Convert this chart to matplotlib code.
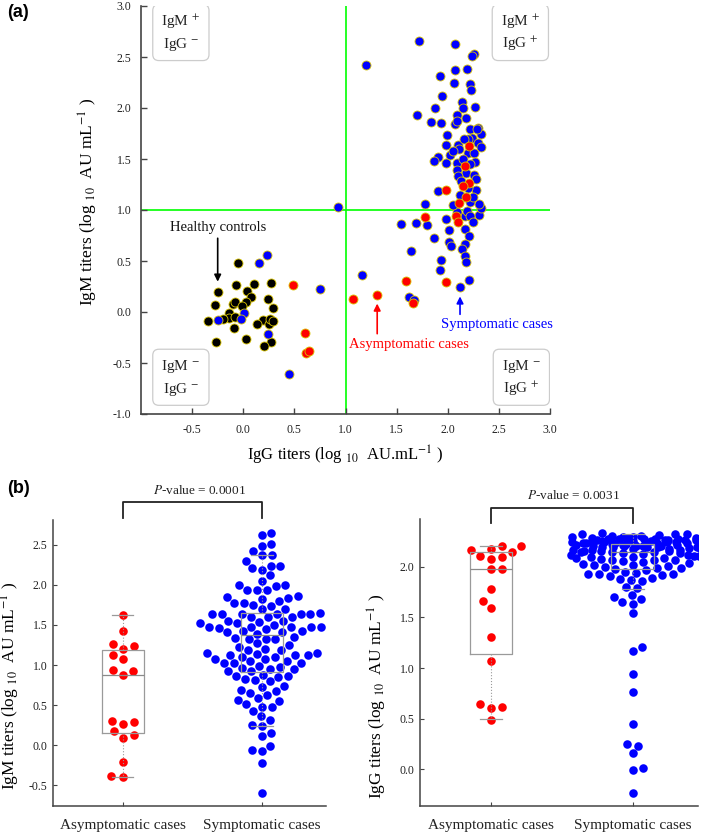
import numpy as np
import matplotlib
matplotlib.use("Agg")
import matplotlib.pyplot as plt
from matplotlib.patches import FancyBboxPatch

plt.rcParams['font.family'] = ['Liberation Serif', 'DejaVu Serif']
plt.rcParams['mathtext.fontset'] = 'stix'
plt.rcParams['axes.unicode_minus'] = False

# ---------------- data: panel (a) ----------------
ctrl_igg = [-0.05, -0.25, -0.07, 0.04, 0.11, 0.27, 0.08, 0.24, -0.28, -0.10, -0.08, 0.03, -0.01, 0.29,
            -0.14, -0.14, -0.20, -0.34, -0.08, 0.19, 0.13, 0.25, 0.26, 0.29, -0.09, 0.03, -0.27, 0.27, 0.20]
ctrl_igm = [0.48, 0.20, 0.26, 0.21, 0.27, 0.28, 0.15, 0.13, 0.07, 0.08, 0.10, 0.10, 0.06, 0.04,
            -0.01, -0.06, -0.07, -0.09, -0.05, -0.08, -0.12, -0.12, -0.07, -0.09, -0.16, -0.26, -0.29, -0.29, -0.33]

asym_igg = [2.21, 2.17, 2.21, 2.15, 1.98, 2.18, 2.11, 1.78, 2.08, 2.10, 1.59, 1.98, 1.07, 1.31, 1.66,
            0.49, 0.60, 0.61, 0.64]
asym_igm = [1.63, 1.43, 1.26, 1.24, 1.20, 1.13, 1.07, 0.93, 0.94, 0.88, 0.30, 0.29, 0.13, 0.17, 0.09,
            0.26, -0.21, -0.40, -0.38]

sym_igg = [0.23, 0.15, -0.25, 0.01, -0.02, 0.24, 0.45, 0.75, 0.93,
           1.78, 1.54, 1.69, 1.80, 1.98, 2.01, 1.87, 2.01, 2.03, 2.17, 2.21, 2.17, 2.14, 2.17, 2.18, 2.21,
           2.12, 1.64, 1.93, 1.92, 1.16, 1.62, 1.67, 2.17, 2.31, 2.33, 2.09, 2.19, 2.22, 2.31, 2.22,
           1.72, 2.07, 1.20, 2.26, 2.24, 2.07, 2.19, 1.92, 2.06, 2.22, 2.23, 1.94, 2.14, 2.15, 2.27, 1.88,
           1.70, 2.09, 1.84, 1.93, 2.07, 2.22, 2.30, 2.33, 1.99, 2.24, 2.20, 1.98, 2.10, 2.30, 2.33, 2.11,
           2.20, 2.26, 2.02, 1.90, 1.87, 1.98, 2.09, 2.27, 2.09, 2.18, 2.26, 2.10, 2.13, 1.90, 2.28, 2.15,
           2.25, 2.09, 2.29, 2.15, 2.22, 2.05, 2.28, 2.12, 2.20, 2.05, 2.25, 2.16, 2.18]
sym_igm = [0.56, 0.48, -0.08, -0.01, -0.07, -0.22, -0.61, 0.23, 1.03,
           1.06, 0.86, 0.87, 0.85, 0.91, 0.80, 0.73, 0.69, 0.65, 0.81, 0.75, 0.67, 0.62, 0.55, 0.49, 0.31,
           0.25, 0.60, 0.51, 0.41, 0.36, 0.15, 0.12, 0.94, 0.95, 1.02, 0.98, 0.99, 0.94, 1.06, 1.08,
           2.66, 2.63, 2.42, 2.53, 2.51, 2.37, 2.38, 2.31, 2.25, 2.24, 2.18, 2.12, 2.06, 2.00, 2.01, 2.00,
           1.93, 1.93, 1.86, 1.85, 1.84, 1.79, 1.80, 1.75, 1.74, 1.71, 1.70, 1.64, 1.64, 1.66, 1.62, 1.60,
           1.56, 1.56, 1.54, 1.52, 1.48, 1.46, 1.46, 1.47, 1.39, 1.36, 1.34, 1.33, 1.28, 1.19, 1.20, 1.13,
           1.13, 1.87, 1.79, 1.50, 1.45, 1.58, 1.30, 1.15, 1.22, 1.05, 0.88, 1.70, 1.90]

# ---------------- data: panel (b) ----------------
groups = ["Asymptomatic cases", "Symptomatic cases"]

sym_igm_b = [2.65, 2.62, 2.51, 2.49, 2.42, 2.37, 2.37, 2.30, 2.24, 2.24, 2.21, 2.19, 2.12, 2.05, 1.99,
             2.00, 2.00, 1.93, 1.93, 1.93, 1.86, 1.83, 1.85, 1.84, 1.78, 1.80, 1.78, 1.75, 1.70, 1.74,
             1.70, 1.64, 1.64, 1.64, 1.64, 1.65, 1.60, 1.64, 1.64, 1.55, 1.60, 1.60, 1.55, 1.54, 1.52,
             1.52, 1.48, 1.47, 1.48, 1.48, 1.46, 1.50, 1.45, 1.47, 1.42, 1.42, 1.41, 1.41, 1.39, 1.33,
             1.33, 1.35, 1.33, 1.34, 1.27, 1.25, 1.23, 1.19, 1.19, 1.20, 1.15, 1.15, 1.14, 1.13, 1.10,
             1.13, 1.10, 1.12, 1.05, 1.08, 1.05, 1.08, 1.03, 1.03, 1.02, 0.99, 0.98, 0.96, 0.95, 0.95,
             0.92, 0.92, 0.88, 0.82, 0.86, 0.86, 0.85, 0.80, 0.81, 0.74, 0.73, 0.69, 0.65, 0.63, 0.67,
             0.59, 0.55, 0.56, 0.51, 0.48, 0.48, 0.42, 0.36, 0.31, 0.25, 0.24, 0.15, 0.12, -0.01, -0.06,
             -0.07, -0.22, -0.60]
sym_igg_b = [2.33, 2.34, 2.32, 2.33, 2.33, 2.30, 2.29, 2.31, 2.30, 2.29, 2.30, 2.28,
             2.28, 2.27, 2.28, 2.27, 2.28, 2.26, 2.27, 2.28, 2.27,
             2.25, 2.24, 2.25, 2.26, 2.24, 2.25, 2.24, 2.25, 2.23, 2.24, 2.25,
             2.21, 2.22, 2.21, 2.20, 2.21, 2.22, 2.20, 2.21, 2.22, 2.20, 2.21, 2.19, 2.20,
             2.16, 2.17, 2.15, 2.16, 2.17, 2.15, 2.16, 2.14, 2.15,
             2.11, 2.10, 2.09, 2.10, 2.12, 2.11, 2.07, 2.08, 2.06, 2.07, 2.07,
             2.02, 1.99, 1.98, 2.00, 2.01, 1.99, 2.02, 1.97,
             1.95, 1.93, 1.92, 1.94, 1.93, 1.91, 1.93, 1.88, 1.86, 1.87, 1.89,
             1.80, 1.79, 1.72, 1.70, 1.68, 1.65, 1.63, 1.54, 1.21, 1.17, 0.94, 0.76, 0.45, 0.25, 0.23,
             0.16, 0.01, -0.01, -0.24,
             2.23, 2.18, 2.19, 2.13, 2.12, 2.26, 2.29, 2.24, 2.17, 2.22, 2.05, 2.04, 2.14, 2.18, 2.27,
             2.31, 2.09, 2.20, 2.03, 2.24]

# box statistics (asym, sym)
igm_q1 = [0.15, 0.915]; igm_med = [0.875, 1.375]; igm_q3 = [1.185, 1.65]
igm_wlo = [-0.40, 0.24]; igm_whi = [1.62, 2.37]
igg_q1 = [1.135, 1.98]; igg_med = [1.98, 2.145]; igg_q3 = [2.145, 2.225]
igg_wlo = [0.495, 1.78]; igg_whi = [2.21, 2.33]
pvals = ["0.0001", "0.0031"]

BLUE = '#0000ff'
RED = '#ff0000'
EDGE = '#d9c400'
SPINE = '#444444'

fig = plt.figure(figsize=(7.09, 8.34), dpi=100)

# ================= panel (a) =================
axA = fig.add_axes([141/709, 1-414/834, 409/709, 408/834])
axA.set_xlim(-1.0, 3.0)
axA.set_ylim(-1.0, 3.0)
for s in ['top', 'right']:
    axA.spines[s].set_visible(False)
for s in ['left', 'bottom']:
    axA.spines[s].set_color(SPINE)
    axA.spines[s].set_linewidth(1.2)
axA.set_xticks(np.arange(-0.5, 3.01, 0.5))
axA.set_yticks(np.arange(-1.0, 3.01, 0.5))
axA.set_xticklabels([f"{v:.1f}" for v in np.arange(-0.5, 3.01, 0.5)])
axA.set_yticklabels([f"{v:.1f}" for v in np.arange(-1.0, 3.01, 0.5)])
axA.tick_params(direction='in', length=4, width=1, color=SPINE, labelsize=8.5, pad=7, labelcolor='#222222')

axA.axvline(1.0, color='#00ff00', lw=1.2, zorder=1)
axA.axhline(1.0, color='#00ff00', lw=1.2, zorder=1)

ms_a = 42
axA.scatter(ctrl_igg, ctrl_igm, s=ms_a, c='black', edgecolors=EDGE, linewidths=0.6, zorder=3)
axA.scatter(sym_igg, sym_igm, s=ms_a, c=BLUE, edgecolors=EDGE, linewidths=0.6, zorder=4)
axA.scatter(asym_igg, asym_igm, s=ms_a, c=RED, edgecolors=EDGE, linewidths=0.6, zorder=5)

# quadrant boxes
quad = [(-0.61, 2.74, '+', '-'), (2.71, 2.74, '+', '+'), (-0.61, -0.64, '-', '-'), (2.72, -0.64, '-', '+')]
for xc, yc, m, g in quad:
    w = h = 0.55
    p = FancyBboxPatch((xc - w/2, yc - h/2), w, h, boxstyle="round,pad=0,rounding_size=0.06",
                       fc='white', ec='#cccccc', lw=0.9, zorder=6)
    axA.add_patch(p)
    axA.text(xc, yc + 0.105, f"IgM ${{}}^{{{m}}}$", ha='center', va='center', fontsize=11, zorder=7, color='#222222')
    axA.text(xc, yc - 0.115, f"IgG ${{}}^{{{g}}}$", ha='center', va='center', fontsize=11, zorder=7, color='#222222')

# annotations
axA.annotate('', xy=(-0.25, 0.27), xytext=(-0.25, 0.75),
             arrowprops=dict(arrowstyle='-|>', color='black', lw=1.2, mutation_scale=10), zorder=8)
axA.text(-0.25, 0.83, "Healthy controls", ha='center', va='center', fontsize=10.5, color='#111111')
axA.annotate('', xy=(1.31, 0.11), xytext=(1.31, -0.24),
             arrowprops=dict(arrowstyle='-|>', color=RED, lw=1.2, mutation_scale=10), zorder=8)
axA.text(1.62, -0.32, "Asymptomatic cases", ha='center', va='center', fontsize=10.5, color=RED)
axA.annotate('', xy=(2.12, 0.18), xytext=(2.12, -0.05),
             arrowprops=dict(arrowstyle='-|>', color=BLUE, lw=1.2, mutation_scale=10), zorder=8)
axA.text(2.48, -0.12, "Symptomatic cases", ha='center', va='center', fontsize=10.5, color=BLUE)

axA.set_xlabel("IgG titers (log ${}_{10}$  AU.mL$^{-1}$ )", fontsize=12)
axA.set_ylabel("IgM titers (log ${}_{10}$  AU mL$^{-1}$ )", fontsize=12.5)
axA.xaxis.set_label_coords(0.5, -0.072)
axA.yaxis.set_label_coords(-0.10, 0.52)

fig.text(7/709, 1-4/834, "(a)", fontsize=13, fontweight='bold', family='Liberation Sans', va='top', ha='left')
fig.text(7/709, 1-480/834, "(b)", fontsize=13, fontweight='bold', family='Liberation Sans', va='top', ha='left')


# ================= swarm helper =================
def swarm_offsets(ax, values, xs_px, ys_px, cap_px=None):
    vals = np.asarray(values, float)
    ypx = ax.transData.transform(np.column_stack([np.ones_like(vals), vals]))[:, 1]
    order = np.argsort(vals, kind='stable')
    px_list, py_list = [], []
    off = np.zeros(len(vals))
    for n, i in enumerate(order):
        y = ypx[i]
        cands = [0.0]
        for a, b in zip(px_list, py_list):
            dy = (y - b) / ys_px
            if abs(dy) < 1:
                dx = np.sqrt(1 - dy * dy) * xs_px
                cands += [a + dx, a - dx]
        # alternate preference of side for ties
        sgn = 1 if n % 2 == 0 else -1
        cands = sorted(cands, key=lambda c: (round(abs(c), 6), -sgn * c))
        chosen = cands[-1]
        for c in cands:
            ok = True
            for a, b in zip(px_list, py_list):
                if ((c - a) / xs_px) ** 2 + ((y - b) / ys_px) ** 2 < 1 - 1e-9:
                    ok = False
                    break
            if ok:
                chosen = c
                break
        px_list.append(chosen)
        py_list.append(y)
        off[i] = chosen
    if cap_px is not None:
        off = np.where(np.abs(off) > cap_px, ((off + cap_px) % (2 * cap_px)) - cap_px, off)
    x0 = ax.transData.transform((0, 0))[0]
    x1 = ax.transData.transform((1, 0))[0]
    return off / (x1 - x0)


def style_b(ax, ylim, yticks):
    ax.set_xlim(0.5, 2.46)
    ax.set_ylim(*ylim)
    for s in ['top', 'right']:
        ax.spines[s].set_visible(False)
    for s in ['left', 'bottom']:
        ax.spines[s].set_color(SPINE)
        ax.spines[s].set_linewidth(1.1)
    ax.set_xticks([1, 2])
    ax.set_xticklabels(groups, fontsize=11)
    ax.set_yticks(yticks)
    ax.set_yticklabels([f"{v:.1f}" for v in yticks])
    ax.tick_params(axis='y', direction='in', length=3, color=SPINE, labelsize=8.5, pad=4, labelcolor='#222222')
    ax.tick_params(axis='x', direction='in', length=3, color=SPINE, pad=9, labelcolor='#222222')


def draw_box(ax, q1, med, q3, wlo, whi):
    stats = [dict(med=med[k], q1=q1[k], q3=q3[k], whislo=wlo[k], whishi=whi[k], fliers=[]) for k in range(2)]
    ax.bxp(stats, positions=[1, 2], widths=0.3, capwidths=0.155, showfliers=False,
           boxprops=dict(color='#9a9a9a', lw=0.9), medianprops=dict(color='#8a8a8a', lw=0.9),
           whiskerprops=dict(color='#9a9a9a', lw=0.8, linestyle=':'), capprops=dict(color='#9a9a9a', lw=0.9),
           zorder=4, manage_ticks=False)


def bracket(ax, y_bar, y_tip, y_txt, txt_x, pv):
    ax.plot([1, 1, 2, 2], [y_tip, y_bar, y_bar, y_tip], color='#222222', lw=1.3, clip_on=False)
    ax.text(txt_x, y_txt, f"$P$-value = {pv}", ha='center', va='center', fontsize=9.5, color='#222222')


ms_b = 38

# ================= panel (b) left: IgM =================
axL = fig.add_axes([53/709, 1-806/834, 273/709, 286/834])
style_b(axL, (-0.76, 2.81), np.arange(-0.5, 2.51, 0.5))
oa = swarm_offsets(axL, asym_igm, 11.5, 10.0)
os_ = swarm_offsets(axL, sym_igm_b, 9.6, 9.6)
axL.scatter(1 + oa, asym_igm, s=ms_b, c=RED, linewidths=0, zorder=2)
axL.scatter(2 + os_, sym_igm_b, s=ms_b, c=BLUE, linewidths=0, zorder=2)
draw_box(axL, igm_q1, igm_med, igm_q3, igm_wlo, igm_whi)
bracket(axL, 3.03, 2.84, 3.18, 1.55, pvals[0])
axL.set_ylabel("IgM titers (log ${}_{10}$  AU mL$^{-1}$ )", fontsize=12.5)
axL.yaxis.set_label_coords(-0.115, 0.42)

# ================= panel (b) right: IgG =================
axR = fig.add_axes([420/709, 1-806/834, 278/709, 287/834])
style_b(axR, (-0.366, 2.475), np.arange(0.0, 2.01, 0.5))
oa2 = swarm_offsets(axR, asym_igg, 11.5, 10.0)
os2 = swarm_offsets(axR, sym_igg_b, 11.0, 8.0, cap_px=67)
axR.scatter(1 + oa2, asym_igg, s=ms_b, c=RED, linewidths=0, zorder=2)
axR.scatter(2 + os2, sym_igg_b, s=ms_b, c=BLUE, linewidths=0, zorder=2)
draw_box(axR, igg_q1, igg_med, igg_q3, igg_wlo, igg_whi)
bracket(axR, 2.58, 2.44, 2.71, 1.58, pvals[1])
axR.set_ylabel("IgG titers (log ${}_{10}$  AU mL$^{-1}$ )", fontsize=12.5)
axR.yaxis.set_label_coords(-0.11, 0.38)

fig.savefig("out.png", dpi=100)
